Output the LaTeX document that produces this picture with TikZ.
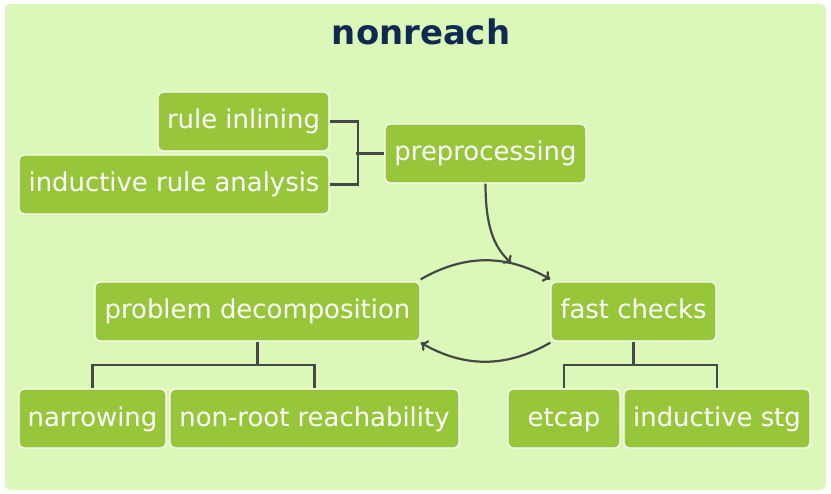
\documentclass[tikz,border=0pt]{standalone}
\usepackage{fontspec}
\setmainfont{DejaVu Sans}
\usetikzlibrary{arrows.meta}
\definecolor{bgc}{HTML}{DCF8B8}
\definecolor{boxc}{HTML}{98C63A}
\definecolor{ttlc}{HTML}{0E2A52}
\definecolor{lnc}{HTML}{474747}
\begin{document}
\begin{tikzpicture}[x=1bp,y=-1bp,
  bx/.style={draw=white, line width=1.3bp, fill=boxc, rounded corners=5bp, text=white,
    font=\fontsize{26}{30}\selectfont, inner sep=0pt, minimum height=59bp,
    text height=20bp, text depth=5bp},
  cn/.style={draw=lnc, line width=2.2bp},
  ar/.style={cn, -{To[length=7bp,width=12bp]}}]
\useasboundingbox (0,0) rectangle (831,494);
\fill[bgc, rounded corners=6bp] (5,4) rectangle (826,490);
\node[font=\bfseries\fontsize{34}{40}\selectfont, text=ttlc] (title) at (421,32) {nonreach};

\node[bx, minimum width=171bp] (ri) at (243.5,121.5) {rule inlining};
\node[bx, minimum width=310bp] (ira) at (174,184.5) {inductive rule analysis};
\node[bx, minimum width=201bp] (pre) at (485.5,153.5) {preprocessing};
\node[bx, minimum width=325bp] (pd) at (257.5,311.5) {problem decomposition};
\node[bx, minimum width=165bp] (fc) at (633.5,311.5) {fast checks};
\node[bx, minimum width=147bp] (nar) at (92.5,418.5) {narrowing};
\node[bx, minimum width=289bp] (nrr) at (314.5,418.5) {non-root reachability};
\node[bx, minimum width=112bp] (etc) at (564,418.5) {etcap};
\node[bx, minimum width=186bp] (ist) at (717,418.5) {inductive stg};

% preprocessing bracket
\draw[cn] (ri.east) -- ++(28,0) |- (ira.east);
\draw[cn] (pre.west) -- ++(-28,0);

% cycle arcs
\coordinate (pdne) at ([yshift=2bp]pd.north east);
\draw[ar] (pdne) to[bend left=30] coordinate[pos=0.7] (hit) ([yshift=2bp]fc.north west);
\draw[ar] ([yshift=-1bp]fc.south west) to[bend left=30] ([yshift=-1bp]pd.south east);

% preprocessing to cycle
\draw[ar] (pre.south) .. controls +(0,50) and +(-14,-14) .. (hit);

% problem decomposition children
\coordinate (pdj) at ([yshift=-23bp]pd.south);
\draw[cn] (pd.south) -- (pdj);
\draw[cn] (nar.north) |- (pdj) -| (nrr.north);

% fast checks children
\coordinate (fcj) at ([yshift=-23bp]fc.south);
\draw[cn] (fc.south) -- (fcj);
\draw[cn] (etc.north) |- (fcj) -| (ist.north);
\end{tikzpicture}
\end{document}
